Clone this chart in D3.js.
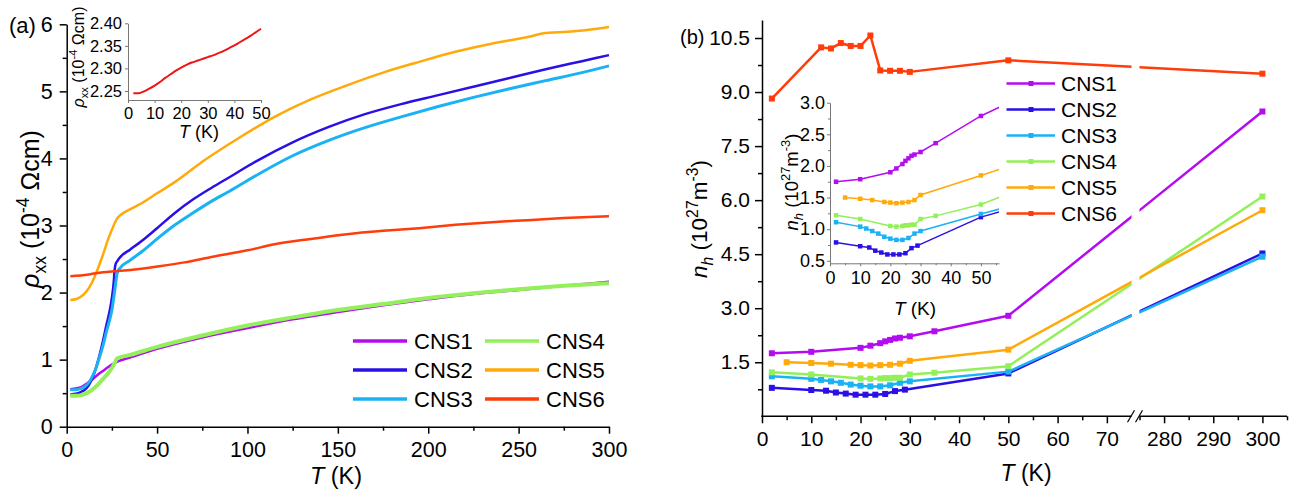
<!DOCTYPE html>
<html>
<head>
<meta charset="utf-8">
<script src="https://cdn.jsdelivr.net/npm/d3@7"></script>
<style>
html, body { margin: 0; padding: 0; background: #fff; }
svg { display: block; font-family: "Liberation Sans", Arial, Helvetica, sans-serif; }
</style>
</head>
<body>
<svg id="fig" width="1301" height="493"></svg>
<script>
// ---------- Panel (a): longitudinal resistivity, [T (K), rho_xx (1e-4 Ohm cm)] ----------
const rhoCNS1 = [[2,0.56],[5,0.57],[8,0.59],[11,0.64],[14,0.70],[17,0.77],[20,0.83],[23,0.89],[26,0.94],[28,0.97],[35,1.03],[50,1.16],[75,1.33],[100,1.47],[125,1.60],[150,1.71],[175,1.81],[200,1.90],[225,1.98],[250,2.04],[275,2.10],[300,2.16]];
const rhoCNS2 = [[2,0.48],[5,0.49],[8,0.52],[10,0.55],[12,0.61],[14,0.71],[16,0.86],[18,1.05],[20,1.27],[22,1.52],[24,1.76],[25,1.92],[26,2.15],[26.5,2.33],[27,2.42],[28,2.47],[30,2.54],[35,2.64],[42,2.78],[50,2.96],[60,3.19],[70,3.39],[80,3.56],[90,3.72],[105,3.96],[125,4.24],[145,4.47],[165,4.66],[185,4.81],[205,4.94],[225,5.07],[245,5.20],[265,5.33],[285,5.45],[300,5.54]];
const rhoCNS3 = [[2,0.55],[5,0.55],[8,0.57],[10,0.60],[12,0.65],[14,0.74],[16,0.86],[18,1.02],[20,1.20],[22,1.42],[24,1.62],[25,1.74],[26,1.92],[27,2.12],[28,2.30],[30,2.38],[35,2.48],[42,2.62],[50,2.80],[60,3.01],[70,3.19],[80,3.36],[90,3.51],[107,3.78],[125,4.04],[145,4.27],[165,4.46],[185,4.62],[205,4.77],[225,4.91],[245,5.04],[265,5.16],[285,5.28],[300,5.38]];
const rhoCNS4 = [[2,0.46],[5,0.46],[8,0.47],[11,0.50],[14,0.55],[17,0.62],[20,0.71],[23,0.80],[26,0.92],[28,1.02],[35,1.07],[50,1.19],[75,1.36],[100,1.51],[125,1.63],[150,1.74],[175,1.83],[200,1.92],[225,1.99],[250,2.05],[275,2.10],[300,2.14]];
const rhoCNS5 = [[2,1.89],[5,1.90],[8,1.94],[11,2.02],[14,2.15],[17,2.34],[20,2.56],[23,2.80],[26,3.00],[28,3.11],[30,3.16],[35,3.24],[40,3.31],[50,3.48],[60,3.65],[75,3.95],[95,4.30],[115,4.62],[135,4.88],[155,5.09],[175,5.28],[195,5.44],[215,5.59],[235,5.71],[255,5.81],[265,5.87],[272,5.88],[282,5.90],[292,5.93],[300,5.96]];
const rhoCNS6 = [[2,2.245],[5,2.25],[10,2.262],[15,2.283],[20,2.302],[25,2.315],[30,2.325],[40,2.351],[50,2.388],[65,2.45],[80,2.53],[100,2.63],[115,2.72],[135,2.80],[155,2.87],[175,2.92],[195,2.96],[215,3.01],[235,3.05],[255,3.08],[275,3.11],[300,3.14]];
// low-temperature detail of CNS6 (inset)
const rhoInsetCNS6 = [[2,2.245],[4,2.245],[6,2.249],[8,2.255],[10,2.262],[12,2.270],[14,2.279],[16,2.287],[18,2.295],[20,2.302],[22,2.308],[24,2.313],[26,2.317],[28,2.321],[30,2.325],[32,2.329],[34,2.334],[36,2.339],[38,2.345],[40,2.351],[42,2.358],[44,2.365],[46,2.372],[48,2.380],[50,2.388]];

// ---------- Panel (b): hole density, [T (K), n_h (1e27 m^-3)] ----------
const nhCNS1 = [[2,1.75],[10,1.79],[20,1.90],[22,1.96],[24,2.03],[25,2.08],[26,2.12],[27,2.16],[28,2.18],[30,2.22],[35,2.36],[50,2.79],[300,8.46]];
const nhCNS2 = [[2,0.79],[10,0.73],[13,0.71],[15,0.66],[17,0.63],[19,0.60],[21,0.60],[23,0.60],[25,0.62],[27,0.70],[29,0.74],[50,1.19],[300,4.52]];
const nhCNS3 = [[2,1.11],[10,1.04],[12,1.01],[14,0.97],[16,0.93],[18,0.88],[20,0.85],[22,0.83],[24,0.83],[26,0.86],[28,0.93],[30,0.97],[50,1.24],[300,4.43]];
const nhCNS4 = [[2,1.22],[10,1.16],[20,1.05],[22,1.04],[24,1.05],[25,1.06],[26,1.06],[27,1.07],[28,1.07],[30,1.16],[35,1.21],[50,1.39],[300,6.10]];
const nhCNS5 = [[5,1.50],[10,1.48],[14,1.46],[18,1.43],[20,1.42],[22,1.41],[24,1.42],[26,1.43],[28,1.46],[30,1.54],[50,1.85],[300,5.72]];
const nhCNS6 = [[2,8.82],[12,10.24],[14,10.21],[16,10.36],[18,10.28],[20,10.28],[22,10.57],[24,9.60],[26,9.59],[28,9.59],[30,9.56],[50,9.88],[300,9.51]];

const seriesNames = ["CNS1", "CNS2", "CNS3", "CNS4", "CNS5", "CNS6"];

// tick values
const xTicksA = [0, 50, 100, 150, 200, 250, 300];
const xMinorA = [25, 75, 125, 175, 225, 275];
const yTicksA = [0, 1, 2, 3, 4, 5, 6];
const yMinorA = [0.5, 1.5, 2.5, 3.5, 4.5, 5.5];
const xTicksInsetA = [0, 10, 20, 30, 40, 50];
const yTicksInsetA = [2.25, 2.30, 2.35, 2.40];
const xTicksB = [0, 10, 20, 30, 40, 50, 60, 70, 280, 290, 300];
const xMinorB = [5, 15, 25, 35, 45, 55, 65, 275, 285, 295, 305];
const yTicksB = [1.5, 3.0, 4.5, 6.0, 7.5, 9.0, 10.5];
const yMinorB = [0.75, 2.25, 3.75, 5.25, 6.75, 8.25, 9.75];
const xTicksInsetB = [0, 10, 20, 30, 40, 50];
const xMinorInsetB = [5, 15, 25, 35, 45, 55];
const yTicksInsetB = [0.5, 1.0, 1.5, 2.0, 2.5, 3.0];
const yMinorInsetB = [0.75, 1.25, 1.75, 2.25, 2.75];

// ---------- styling ----------
const colors = ["#b30cf0", "#2a10e6", "#1ab2f5", "#93ef5a", "#ffaa0a", "#ff3c0a"];
const widthsA = [2.5, 2.5, 3, 4, 2.5, 2.5];

const svg = d3.select("#fig");

// text with italic / sub / superscript runs
function rich(parent, parts, x, y, size, opts = {}) {
  const t = parent.append("text")
    .attr("transform", `translate(${x},${y})` + (opts.rotate ? " rotate(-90)" : ""))
    .attr("text-anchor", opts.anchor || "middle")
    .attr("font-size", size)
    .style("white-space", "pre")
    .attr("fill", "#000");
  let shift = 0;
  parts.forEach(p => {
    let target = 0, fs = size;
    if (p.sub) { target = 0.28 * size; fs = 0.7 * size; }
    if (p.sup) { target = -0.42 * size; fs = 0.7 * size; }
    const ts = t.append("tspan").text(p.t).attr("font-size", fs).attr("dy", target - shift);
    if (p.i) ts.attr("font-style", "italic");
    shift = target;
  });
  return t;
}

function styleAxis(g, color, width, fontSize) {
  g.selectAll("path.domain").attr("stroke", color).attr("stroke-width", width);
  g.selectAll(".tick line").attr("stroke", color).attr("stroke-width", width);
  g.selectAll(".tick text").attr("fill", "#000").attr("font-size", fontSize)
    .attr("font-family", '"Liberation Sans", Arial, sans-serif');
}

// ================= Panel (a) =================
const xA = d3.scaleLinear().domain([0, 300]).range([66.7, 609]);
const yA = d3.scaleLinear().domain([0, 6]).range([426.7, 24.3]);
const gA = svg.append("g");

const gAx = gA.append("g").attr("transform", `translate(0,${yA(0)})`)
  .call(d3.axisBottom(xA).tickValues(xTicksA).tickSize(7).tickSizeOuter(0).tickPadding(8).tickFormat(d3.format("d")));
styleAxis(gAx, "#000", 1.5, 21.5);
const gAxm = gA.append("g").attr("transform", `translate(0,${yA(0)})`)
  .call(d3.axisBottom(xA).tickValues(xMinorA).tickSize(4).tickFormat(""));
gAxm.select(".domain").remove(); styleAxis(gAxm, "#000", 1.5, 21);

const gAy = gA.append("g").attr("transform", `translate(${xA(0)},0)`)
  .call(d3.axisLeft(yA).tickValues(yTicksA).tickSize(7).tickSizeOuter(0).tickPadding(7).tickFormat(d3.format("d")));
styleAxis(gAy, "#000", 1.5, 21.5);
const gAym = gA.append("g").attr("transform", `translate(${xA(0)},0)`)
  .call(d3.axisLeft(yA).tickValues(yMinorA).tickSize(4).tickFormat(""));
gAym.select(".domain").remove(); styleAxis(gAym, "#000", 1.5, 21);

const rhoSeries = [rhoCNS1, rhoCNS2, rhoCNS3, rhoCNS4, rhoCNS5, rhoCNS6];
const lineA = d3.line().x(d => xA(d[0])).y(d => yA(d[1])).curve(d3.curveMonotoneX);
rhoSeries.forEach((s, i) => {
  gA.append("path").datum(s).attr("d", lineA)
    .attr("fill", "none").attr("stroke", colors[i]).attr("stroke-width", widthsA[i])
    .attr("stroke-linejoin", "round");
});

// legend (two columns)
seriesNames.forEach((name, i) => {
  const col = Math.floor(i / 3), row = i % 3;
  const x0 = col === 0 ? 353 : 485;
  const yc = 341 + row * 29;
  gA.append("line").attr("x1", x0).attr("x2", x0 + 54).attr("y1", yc).attr("y2", yc)
    .attr("stroke", colors[i]).attr("stroke-width", 3.5);
  gA.append("text").attr("x", x0 + 61).attr("y", yc + 8).attr("font-size", 22).text(name);
});

// axis titles
rich(gA, [{t: "T", i: true}, {t: " (K)"}], 336, 484, 23.5);
rich(gA, [{t: "ρ", i: true}, {t: "xx", sub: true}, {t: " (10"}, {t: "-4", sup: true}, {t: " Ωcm)"}], 39, 209, 25, {rotate: true});
gA.append("text").attr("x", 9).attr("y", 33).attr("font-size", 22).text("(a)");

// inset (a)
const xIA = d3.scaleLinear().domain([0, 50]).range([128, 261]);
const yIA = d3.scaleLinear().domain([2.23, 2.40]).range([100, 23.3]);
const gIA = svg.append("g");
const gIAx = gIA.append("g").attr("transform", `translate(0,${yIA.range()[0]})`)
  .call(d3.axisBottom(xIA).tickValues(xTicksInsetA).tickSize(3).tickSizeOuter(0).tickPadding(4).tickFormat(d3.format("d")));
styleAxis(gIAx, "#777", 1, 16.5);
const gIAy = gIA.append("g").attr("transform", `translate(${xIA(0)},0)`)
  .call(d3.axisLeft(yIA).tickValues(yTicksInsetA).tickSize(3).tickSizeOuter(0).tickPadding(3).tickFormat(d3.format(".2f")));
styleAxis(gIAy, "#777", 1, 16.5);
gIA.append("path").datum(rhoInsetCNS6)
  .attr("d", d3.line().x(d => xIA(d[0])).y(d => yIA(d[1])).curve(d3.curveMonotoneX))
  .attr("fill", "none").attr("stroke", "#f01414").attr("stroke-width", 2);
rich(gIA, [{t: "T", i: true}, {t: " (K)"}], 199, 138, 18);
rich(gIA, [{t: "ρ", i: true}, {t: "xx", sub: true}, {t: " (10"}, {t: "-4", sup: true}, {t: " Ωcm)"}], 84, 57, 16, {rotate: true});

// ================= Panel (b) =================
// broken x axis: 0–75 K and 275–305 K
const xB = d3.scaleLinear().domain([0, 75, 275, 305]).range([762, 1131.5, 1139.5, 1287]);
const yB = d3.scaleLinear().domain([0, 11]).range([416.3, 20]);
const gB = svg.append("g");

const gBx = gB.append("g").attr("transform", `translate(0,${yB(0)})`)
  .call(d3.axisBottom(xB).tickValues(xTicksB).tickSize(7).tickSizeOuter(0).tickPadding(8).tickFormat(d3.format("d")));
gBx.select(".domain").remove(); styleAxis(gBx, "#000", 1.5, 21);
const gBxm = gB.append("g").attr("transform", `translate(0,${yB(0)})`)
  .call(d3.axisBottom(xB).tickValues(xMinorB).tickSize(4).tickFormat(""));
gBxm.select(".domain").remove(); styleAxis(gBxm, "#000", 1.5, 21);
// axis line segments and break marks
[[0, 75], [275, 305]].forEach(([a, b]) => {
  gB.append("line").attr("x1", xB(a) - (a === 0 ? 0.75 : 0)).attr("x2", xB(b)).attr("y1", yB(0)).attr("y2", yB(0))
    .attr("stroke", "#000").attr("stroke-width", 1.5);
});
[xB(75), xB(275)].forEach(bx => {
  gB.append("line").attr("x1", bx - 4).attr("x2", bx + 3).attr("y1", yB(0) + 6).attr("y2", yB(0) - 6)
    .attr("stroke", "#000").attr("stroke-width", 1.2);
});

const gBy = gB.append("g").attr("transform", `translate(${xB(0)},0)`)
  .call(d3.axisLeft(yB).tickValues(yTicksB).tickSize(7).tickSizeOuter(0).tickPadding(5).tickFormat(d3.format(".1f")));
styleAxis(gBy, "#000", 1.5, 21);
const gBym = gB.append("g").attr("transform", `translate(${xB(0)},0)`)
  .call(d3.axisLeft(yB).tickValues(yMinorB).tickSize(4).tickFormat(""));
gBym.select(".domain").remove(); styleAxis(gBym, "#000", 1.5, 21);

const defs = svg.append("defs");
defs.append("clipPath").attr("id", "clipLeft").append("rect")
  .attr("x", 700).attr("y", 0).attr("width", xB(75) - 700).attr("height", 440);
defs.append("clipPath").attr("id", "clipRight").append("rect")
  .attr("x", xB(275)).attr("y", 0).attr("width", 1301 - xB(275)).attr("height", 440);

const nhSeries = [nhCNS1, nhCNS2, nhCNS3, nhCNS4, nhCNS5, nhCNS6];
const lineB = d3.line().x(d => xB(d[0])).y(d => yB(d[1]));
["clipLeft", "clipRight"].forEach(cid => {
  const g = gB.append("g").attr("clip-path", `url(#${cid})`);
  nhSeries.forEach((s, i) => {
    const gs = g.append("g");
    gs.append("path").datum(s).attr("d", lineB)
      .attr("fill", "none").attr("stroke", colors[i]).attr("stroke-width", 2.5).attr("stroke-linejoin", "round");
    gs.selectAll("rect").data(s).join("rect")
      .attr("x", d => xB(d[0]) - 3).attr("y", d => yB(d[1]) - 3)
      .attr("width", 6).attr("height", 6).attr("fill", colors[i]);
  });
});

// legend
seriesNames.forEach((name, i) => {
  const yc = 83.5 + i * 26;
  gB.append("line").attr("x1", 1006.5).attr("x2", 1055).attr("y1", yc).attr("y2", yc)
    .attr("stroke", colors[i]).attr("stroke-width", 2.5);
  gB.append("rect").attr("x", 1031 - 2.5).attr("y", yc - 2.5).attr("width", 5).attr("height", 5).attr("fill", colors[i]);
  gB.append("text").attr("x", 1061).attr("y", yc + 7.5).attr("font-size", 21).text(name);
});

rich(gB, [{t: "T", i: true}, {t: " (K)"}], 1026, 481, 23);
rich(gB, [{t: "n", i: true}, {t: "h", i: true, sub: true}, {t: " (10"}, {t: "27", sup: true}, {t: "m"}, {t: "-3", sup: true}, {t: ")"}], 707, 219, 22.5, {rotate: true});
gB.append("text").attr("x", 680).attr("y", 44).attr("font-size", 20).text("(b)");

// inset (b): low-temperature range
const xIB = d3.scaleLinear().domain([0, 56]).range([830, 999]);
const yIB = d3.scaleLinear().domain([0.46, 3.0]).range([263.3, 102.7]);
const gIB = svg.append("g");
const gIBx = gIB.append("g").attr("transform", `translate(0,${yIB.range()[0]})`)
  .call(d3.axisBottom(xIB).tickValues(xTicksInsetB).tickSize(3).tickSizeOuter(0).tickPadding(5).tickFormat(d3.format("d")));
styleAxis(gIBx, "#777", 1, 18);
const gIBxm = gIB.append("g").attr("transform", `translate(0,${yIB.range()[0]})`)
  .call(d3.axisBottom(xIB).tickValues(xMinorInsetB).tickSize(2).tickFormat(""));
gIBxm.select(".domain").remove(); styleAxis(gIBxm, "#777", 1, 18);
const gIBy = gIB.append("g").attr("transform", `translate(${xIB(0)},0)`)
  .call(d3.axisLeft(yIB).tickValues(yTicksInsetB).tickSize(3).tickSizeOuter(0).tickPadding(2).tickFormat(d3.format(".1f")));
styleAxis(gIBy, "#777", 1, 18);
const gIBym = gIB.append("g").attr("transform", `translate(${xIB(0)},0)`)
  .call(d3.axisLeft(yIB).tickValues(yMinorInsetB).tickSize(2).tickFormat(""));
gIBym.select(".domain").remove(); styleAxis(gIBym, "#777", 1, 18);

defs.append("clipPath").attr("id", "clipInsetB").append("rect")
  .attr("x", xIB(0)).attr("y", yIB(3.0) - 4).attr("width", xIB(56) - xIB(0)).attr("height", yIB(0.46) - yIB(3.0) + 4);
const gIBd = gIB.append("g").attr("clip-path", "url(#clipInsetB)");
const lineIB = d3.line().x(d => xIB(d[0])).y(d => yIB(d[1]));
nhSeries.slice(0, 5).forEach((s, i) => {
  gIBd.append("path").datum(s).attr("d", lineIB)
    .attr("fill", "none").attr("stroke", colors[i]).attr("stroke-width", 1.5);
  gIBd.append("g").selectAll("rect").data(s).join("rect")
    .attr("x", d => xIB(d[0]) - 2.25).attr("y", d => yIB(d[1]) - 2.25)
    .attr("width", 4.5).attr("height", 4.5).attr("fill", colors[i]);
});
rich(gIB, [{t: "T", i: true}, {t: " (K)"}], 915, 315, 19);
rich(gIB, [{t: "n", i: true}, {t: "h", i: true, sub: true}, {t: " (10"}, {t: "27", sup: true}, {t: "m"}, {t: "-3", sup: true}, {t: ")"}], 798, 182, 18.5, {rotate: true});
</script>
</body>
</html>
